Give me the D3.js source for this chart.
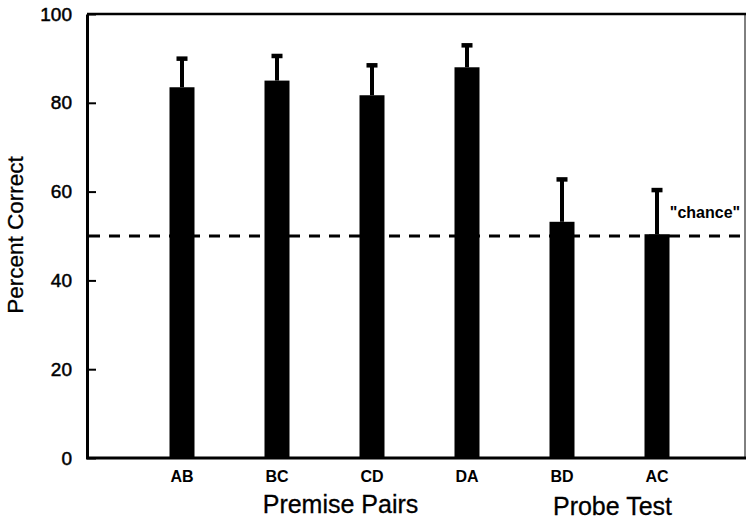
<!DOCTYPE html>
<html>
<head>
<meta charset="utf-8">
<script src="https://cdn.jsdelivr.net/npm/d3@7"></script>
<style>
  body { margin: 0; background: #fff; }
  svg { display: block; font-family: "Liberation Sans", Arial, Helvetica, sans-serif; }
</style>
</head>
<body>
<svg id="main" width="746" height="522"></svg>
<script>
// bar data
var pairs = ['AB', 'BC', 'CD', 'DA', 'BD', 'AC'];
var percent = [83.5, 85, 81.7, 88, 53.2, 50.4];
var errTop = [90, 90.6, 88.5, 93, 62.8, 60.4];
var yTicks = [0, 20, 40, 60, 80, 100];
var chanceLevel = 50;
var groupLabels = ['Premise Pairs', 'Probe Test'];
var groupPairs = [['BC', 'CD'], ['BD', 'AC']];

const svg = d3.select('svg#main');
const plotLeft = 87, plotTop = 14, plotBottom = 458, plotRight = 746;

var x = d3.scalePoint().domain(pairs).range([plotLeft, 752]).padding(1);
var y = d3.scaleLinear().domain([0, 100]).range([plotBottom, plotTop]);
var barW = 25;

// y axis with inward ticks
var yAxis = svg.append('g')
    .attr('transform', `translate(${plotLeft},0)`)
    .call(d3.axisLeft(y).tickValues(yTicks).tickSizeInner(-9).tickSizeOuter(0).tickPadding(15));
yAxis.select('.domain').attr('stroke-width', 3);
yAxis.selectAll('.tick line').attr('stroke-width', 2);
yAxis.selectAll('.tick text')
    .attr('font-size', 19).attr('fill', '#000')
    .attr('stroke', '#000').attr('stroke-width', 0.5);

// frame: top and right, bottom baseline
svg.append('line').attr('x1', plotLeft).attr('x2', plotRight).attr('y1', plotTop).attr('y2', plotTop)
    .attr('stroke', '#000').attr('stroke-width', 2.5);
svg.append('line').attr('x1', 745).attr('x2', 745).attr('y1', plotTop).attr('y2', plotBottom)
    .attr('stroke', '#000').attr('stroke-width', 1);
svg.append('line').attr('x1', plotLeft - 1).attr('x2', plotRight).attr('y1', plotBottom).attr('y2', plotBottom)
    .attr('stroke', '#000').attr('stroke-width', 3);

// chance line
svg.append('line')
    .attr('x1', plotLeft + 2).attr('x2', plotRight)
    .attr('y1', y(chanceLevel)).attr('y2', y(chanceLevel))
    .attr('stroke', '#000').attr('stroke-width', 3)
    .attr('stroke-dasharray', '11,9');

svg.append('text')
    .attr('x', 705).attr('y', 218)
    .attr('text-anchor', 'middle')
    .attr('font-size', 16).attr('font-weight', 'bold')
    .text('"chance"');

// error bars (stem + cap)
var errs = svg.selectAll('g.err').data(pairs).join('g').attr('class', 'err');
errs.append('line')
    .attr('x1', d => x(d)).attr('x2', d => x(d))
    .attr('y1', (d, i) => y(percent[i])).attr('y2', (d, i) => y(errTop[i]))
    .attr('stroke', '#000').attr('stroke-width', 4);
errs.append('rect')
    .attr('x', d => x(d) - 5.5).attr('y', (d, i) => y(errTop[i]) - 2)
    .attr('width', 11).attr('height', 4.5).attr('fill', '#000');

// bars
svg.selectAll('rect.bar').data(pairs).join('rect')
    .attr('class', 'bar')
    .attr('x', d => x(d) - barW / 2)
    .attr('y', (d, i) => y(percent[i]))
    .attr('width', barW)
    .attr('height', (d, i) => plotBottom - y(percent[i]))
    .attr('fill', '#000');

// category labels
svg.selectAll('text.cat').data(pairs).join('text')
    .attr('class', 'cat')
    .attr('x', d => x(d)).attr('y', 482)
    .attr('text-anchor', 'middle')
    .attr('font-size', 16).attr('font-weight', 'bold')
    .text(d => d);

// group labels
svg.selectAll('text.grp').data(groupLabels).join('text')
    .attr('class', 'grp')
    .attr('x', (d, i) => (x(groupPairs[i][0]) + x(groupPairs[i][1])) / 2 + (i == 0 ? 16 : 3))
    .attr('y', (d, i) => 513 + i * 2)
    .attr('text-anchor', 'middle')
    .attr('font-size', 25).attr('stroke', '#000').attr('stroke-width', 0.3)
    .text(d => d);

// y label
svg.append('text')
    .attr('transform', 'translate(23,235) rotate(-90)')
    .attr('text-anchor', 'middle')
    .attr('font-size', 22.5).attr('stroke', '#000').attr('stroke-width', 0.3)
    .text('Percent Correct');
</script>
</body>
</html>
